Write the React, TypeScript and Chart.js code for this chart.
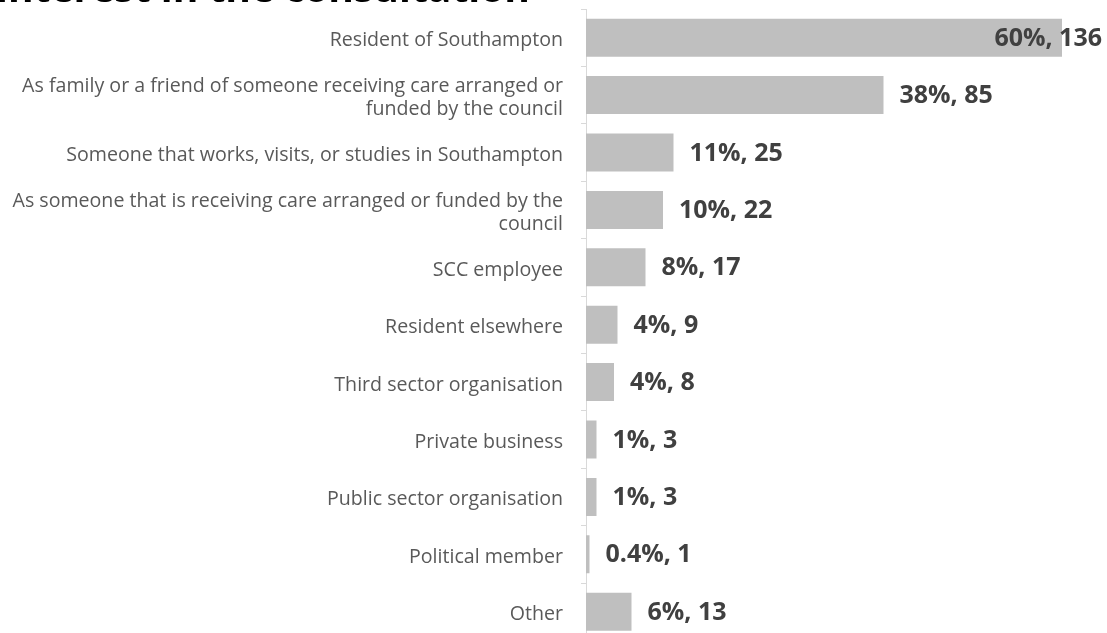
import React, { useEffect, useRef } from "react";
import { Chart, registerables } from "chart.js";

Chart.register(...registerables);

const TITLE = "Respondents' interest in the consultation";

const categories: (string | string[])[] = [
  "Resident of Southampton",
  ["As family or a friend of someone receiving care arranged or", "funded by the council"],
  "Someone that works, visits, or studies in Southampton",
  ["As someone that is receiving care arranged or funded by the", "council"],
  "SCC employee",
  "Resident elsewhere",
  "Third sector organisation",
  "Private business",
  "Public sector organisation",
  "Political member",
  "Other",
];

const counts = [136, 85, 25, 22, 17, 9, 8, 3, 3, 1, 13];
const percentLabels = ["60%", "38%", "11%", "10%", "8%", "4%", "4%", "1%", "1%", "0.4%", "6%"];

const CANVAS_W = 1107;
const CANVAS_H = 660;

export default function App() {
  const ref = useRef<HTMLCanvasElement | null>(null);

  useEffect(() => {
    const canvas = ref.current;
    if (!canvas) return;

    const labelPlugin = {
      id: "valueLabels",
      afterDatasetsDraw(chart: any) {
        const ctx = chart.ctx;
        const meta = chart.getDatasetMeta(0);
        ctx.save();
        ctx.font = "bold 25px 'Open Sans'";
        ctx.fillStyle = "#404040";
        ctx.textAlign = "left";
        ctx.textBaseline = "middle";
        meta.data.forEach((bar: any, i: number) => {
          const text = `${percentLabels[i]}, ${counts[i]}`;
          const w = ctx.measureText(text).width;
          let x = bar.x + 16;
          if (x + w > chart.width - 5) x = chart.width - 5 - w;
          ctx.fillText(text, x, bar.y + 1);
        });
        ctx.restore();
      },
    };

    const titlePlugin = {
      id: "clippedTitle",
      afterDraw(chart: any) {
        const ctx = chart.ctx;
        ctx.save();
        ctx.font = "bold 39px 'Open Sans'";
        ctx.fillStyle = "#000000";
        ctx.textAlign = "right";
        ctx.textBaseline = "alphabetic";
        ctx.fillText(TITLE, 530, 2);
        ctx.restore();
      },
    };

    const chart = new Chart(canvas, {
      type: "bar",
      data: {
        labels: categories,
        datasets: [
          {
            data: counts,
            backgroundColor: "#bfbfbf",
            borderWidth: 0,
            categoryPercentage: 1,
            barPercentage: 0.662,
          },
        ],
      },
      options: {
        indexAxis: "y",
        responsive: false,
        animation: false,
        devicePixelRatio: 1,
        layout: { padding: { top: 9, bottom: 19.6, left: 0, right: 31 } },
        plugins: {
          legend: { display: false },
          tooltip: { enabled: false },
          title: { display: false },
        },
        scales: {
          x: {
            display: false,
            min: 0,
            max: 140,
          },
          y: {
            offset: true,
            afterFit: (scale: any) => {
              scale.width = 586;
              scale.paddingTop = 0;
              scale.paddingBottom = 0;
            },
            grid: {
              offset: true,
              drawOnChartArea: false,
              drawTicks: true,
              tickLength: 5,
              color: "#d9d9d9",
            },
            border: { display: true, color: "#d9d9d9", width: 1 },
            ticks: {
              color: "#595959",
              padding: 18,
              labelOffset: 3,
              font: { family: "'Open Sans'", size: 19.6, lineHeight: 1.17 },
            },
          },
        },
      },
      plugins: [labelPlugin, titlePlugin],
    });

    return () => chart.destroy();
  }, []);

  return (
    <div
      style={{
        position: "fixed",
        left: 0,
        top: 0,
        width: CANVAS_W,
        height: 633,
        overflow: "hidden",
        background: "#ffffff",
      }}
    >
      <canvas ref={ref} width={CANVAS_W} height={CANVAS_H} style={{ display: "block" }} />
    </div>
  );
}
